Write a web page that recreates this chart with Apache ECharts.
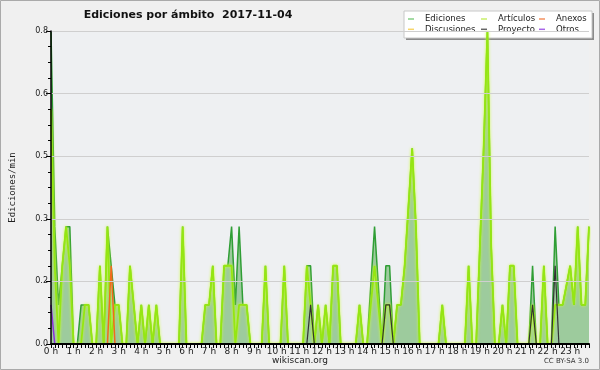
<!DOCTYPE html>
<html><head><meta charset="utf-8">
<script src="https://cdn.jsdelivr.net/npm/echarts@6/dist/echarts.min.js"></script>
<style>html,body{margin:0;padding:0;background:#f0f0f0}#c{width:600px;height:370px}</style>
</head><body><div id="c"></div>
<script>
// Tick labels (one per hour)
const hourLabels = ['0 h','1 h','2 h','3 h','4 h','5 h','6 h','7 h','8 h','9 h','10 h','11 h',
  '12 h','13 h','14 h','15 h','16 h','17 h','18 h','19 h','20 h','21 h','22 h','23 h'];
const yTicks = [0, 0.16, 0.32, 0.48, 0.64, 0.8];

// Edits per minute, 10-minute bins (144 per day)
const ediciones = [
  0.8,0.3,0.1,0.2,0.3,0.3, 0,0,0.1,0.1,0.1,0,
  0,0.2,0,0.3,0.2,0.1, 0.1,0,0,0.2,0.1,0,
  0.1,0,0.1,0,0.1,0, 0,0,0,0,0,0.3,
  0,0,0,0,0,0.1, 0.1,0.2,0,0,0.2,0.2,
  0.3,0.1,0.3,0.1,0.1,0, 0,0,0,0.2,0,0,
  0,0,0.2,0,0,0, 0,0,0.2,0.2,0,0.1,
  0,0.1,0,0.2,0.2,0, 0,0,0,0,0.1,0,
  0,0.15,0.3,0.15,0,0.2, 0.2,0,0.1,0.1,0.2,0.35,
  0.5,0.3,0,0,0,0, 0,0,0.1,0,0,0,
  0,0,0,0.2,0,0, 0.25,0.5,0.8,0.25,0,0,
  0.1,0,0.2,0.2,0,0, 0,0,0.2,0,0,0.2,
  0,0,0.3,0.1,0.1,0.15, 0.2,0.1,0.3,0.1,0.1,0.3
];
const articulos = [
  0.6,0.2,0,0.2,0.3,0.2, 0,0,0,0.1,0.1,0,
  0,0.2,0,0.3,0,0.1, 0.1,0,0,0.2,0.1,0,
  0.1,0,0.1,0,0.1,0, 0,0,0,0,0,0.3,
  0,0,0,0,0,0.1, 0.1,0.2,0,0,0.2,0.2,
  0.2,0,0.1,0.1,0.1,0, 0,0,0,0.2,0,0,
  0,0,0.2,0,0,0, 0,0,0.2,0.1,0,0.1,
  0,0.1,0,0.2,0.2,0, 0,0,0,0,0.1,0,
  0,0.1,0.2,0.1,0,0.1, 0.1,0,0.1,0.1,0.2,0.35,
  0.5,0.3,0,0,0,0, 0,0,0.1,0,0,0,
  0,0,0,0.2,0,0, 0.25,0.5,0.8,0.25,0,0,
  0.1,0,0.2,0.2,0,0, 0,0,0.1,0,0,0.2,
  0,0,0.1,0.1,0.1,0.15, 0.2,0.1,0.3,0.1,0.1,0.3
];
// Sparse series: [index, value] pairs, zero elsewhere
const anexosPts = [[16, 0.2]];
const proyectoPts = [[69, 0.1], [89, 0.1], [90, 0.1], [128, 0.1], [134, 0.2]];
const otrosPts = [[0, 0.1]];
const discusionesPts = [];

const N = ediciones.length;
const cats = [];
for (let i = 0; i < N; i++) cats.push(i % 6 === 0 ? hourLabels[i / 6] : '');
function expand(pts) { const a = new Array(N).fill(0); pts.forEach(p => a[p[0]] = p[1]); return a; }

const colors = {
  Ediciones: '#2f9e35', 'Artículos': '#95e612', Anexos: '#f26a1b',
  Discusiones: '#f5c518', Proyecto: '#333333', Otros: '#8d2fe0'
};
const legendColors = {
  Ediciones: '#86cf86', 'Artículos': '#c9ef6a', Anexos: '#f59261',
  Discusiones: '#f7d56a', Proyecto: '#666666', Otros: '#a866e8'
};
function lg(names, left) {
  return {
    orient: 'vertical', left: left, top: 14, itemGap: 0.3, padding: 0,
    itemWidth: 6, itemHeight: 1.5, icon: 'rect', selectedMode: false,
    textStyle: { fontFamily: 'DejaVu Sans', fontSize: 8.5, lineHeight: 10, color: '#222', padding: [0, 0, 0, 6] },
    data: names.map(n => ({ name: n, itemStyle: { color: legendColors[n] } }))
  };
}
function ln(name, data, width, z, extra) {
  return Object.assign({
    name, type: 'line', data, symbol: 'none', z, animation: false,
    lineStyle: { color: colors[name], width: width }, itemStyle: { color: colors[name] }
  }, extra || {});
}

const chart = echarts.init(document.getElementById('c'), null, { renderer: 'canvas' });
chart.setOption({
  backgroundColor: '#f0f0f0',
  animation: false,
  title: {
    text: 'Ediciones por ámbito  2017-11-04', left: 183, top: 5, textAlign: 'center',
    textStyle: { fontFamily: 'DejaVu Sans', fontWeight: 'bold', fontSize: 11, color: '#111' }
  },
  legend: [lg(['Ediciones', 'Discusiones'], 408), lg(['Artículos', 'Proyecto'], 481), lg(['Anexos', 'Otros'], 539)],
  grid: { left: 46, right: 11, top: 31, bottom: 26, show: true, backgroundColor: '#eef0f2', borderWidth: 0 },
  xAxis: {
    type: 'category', data: cats, boundaryGap: false, z: 10,
    axisLine: { lineStyle: { color: '#000', width: 2 } },
    axisTick: { interval: 0, length: 4, lineStyle: { color: '#000', width: 1 } },
    axisLabel: { interval: 5, fontFamily: 'DejaVu Sans', fontSize: 9, color: '#222', margin: 3 },
    splitLine: { show: false }
  },
  yAxis: {
    type: 'value', min: 0, max: 0.8, interval: 0.16, z: 10,
    name: 'Ediciones/min', nameLocation: 'middle', nameRotate: 90, nameGap: 34,
    nameTextStyle: { fontFamily: 'DejaVu Sans Mono', fontSize: 9, color: '#222' },
    axisLine: { show: true, lineStyle: { color: '#000', width: 1.5 } },
    axisTick: { show: true, inside: false, length: 5, lineStyle: { color: '#000' } },
    minorTick: { show: true, splitNumber: 4, length: 3, lineStyle: { color: '#000' } },
    axisLabel: { fontFamily: 'DejaVu Sans', fontSize: 8, color: '#222', margin: 3,
      formatter: v => v.toFixed(1) },
    splitLine: { show: true, lineStyle: { color: '#cfcfcf', width: 1 } }
  },
  series: [
    ln('Ediciones', ediciones, 1.5, 2, { areaStyle: { color: '#9dcb9d', opacity: 1 } }),
    ln('Artículos', articulos, 1.8, 3, { lineStyle: { color: colors['Artículos'], width: 1.8, shadowColor: '#ccff33', shadowBlur: 3 } }),
    ln('Discusiones', expand(discusionesPts), 1.5, 4),
    ln('Anexos', expand(anexosPts), 1.5, 4),
    ln('Proyecto', expand(proyectoPts), 1.2, 5),
    ln('Otros', expand(otrosPts), 1.5, 5)
  ],
  graphic: [
    { type: 'rect', shape: { x: 406, y: 13, width: 188, height: 27 }, style: { fill: '#8a8a8a' }, z: 0, silent: true },
    { type: 'rect', shape: { x: 404, y: 11, width: 188, height: 27 }, style: { fill: '#ffffff', stroke: '#c8c8c8', lineWidth: 1 }, z: 0, silent: true },
    { type: 'text', left: 'center', top: 356, style: { text: 'wikiscan.org', fontFamily: 'DejaVu Sans', fontSize: 9, fill: '#222' } },
    { type: 'text', right: 11, top: 358, style: { text: 'CC BY-SA 3.0', fontFamily: 'DejaVu Sans', fontSize: 7, fill: '#333' } },
    { type: 'rect', shape: { x: 0.5, y: 0.5, width: 599, height: 369 }, style: { fill: 'none', stroke: '#aaaaaa', lineWidth: 1 }, z: 100, silent: true }
  ]
});
</script></body></html>
